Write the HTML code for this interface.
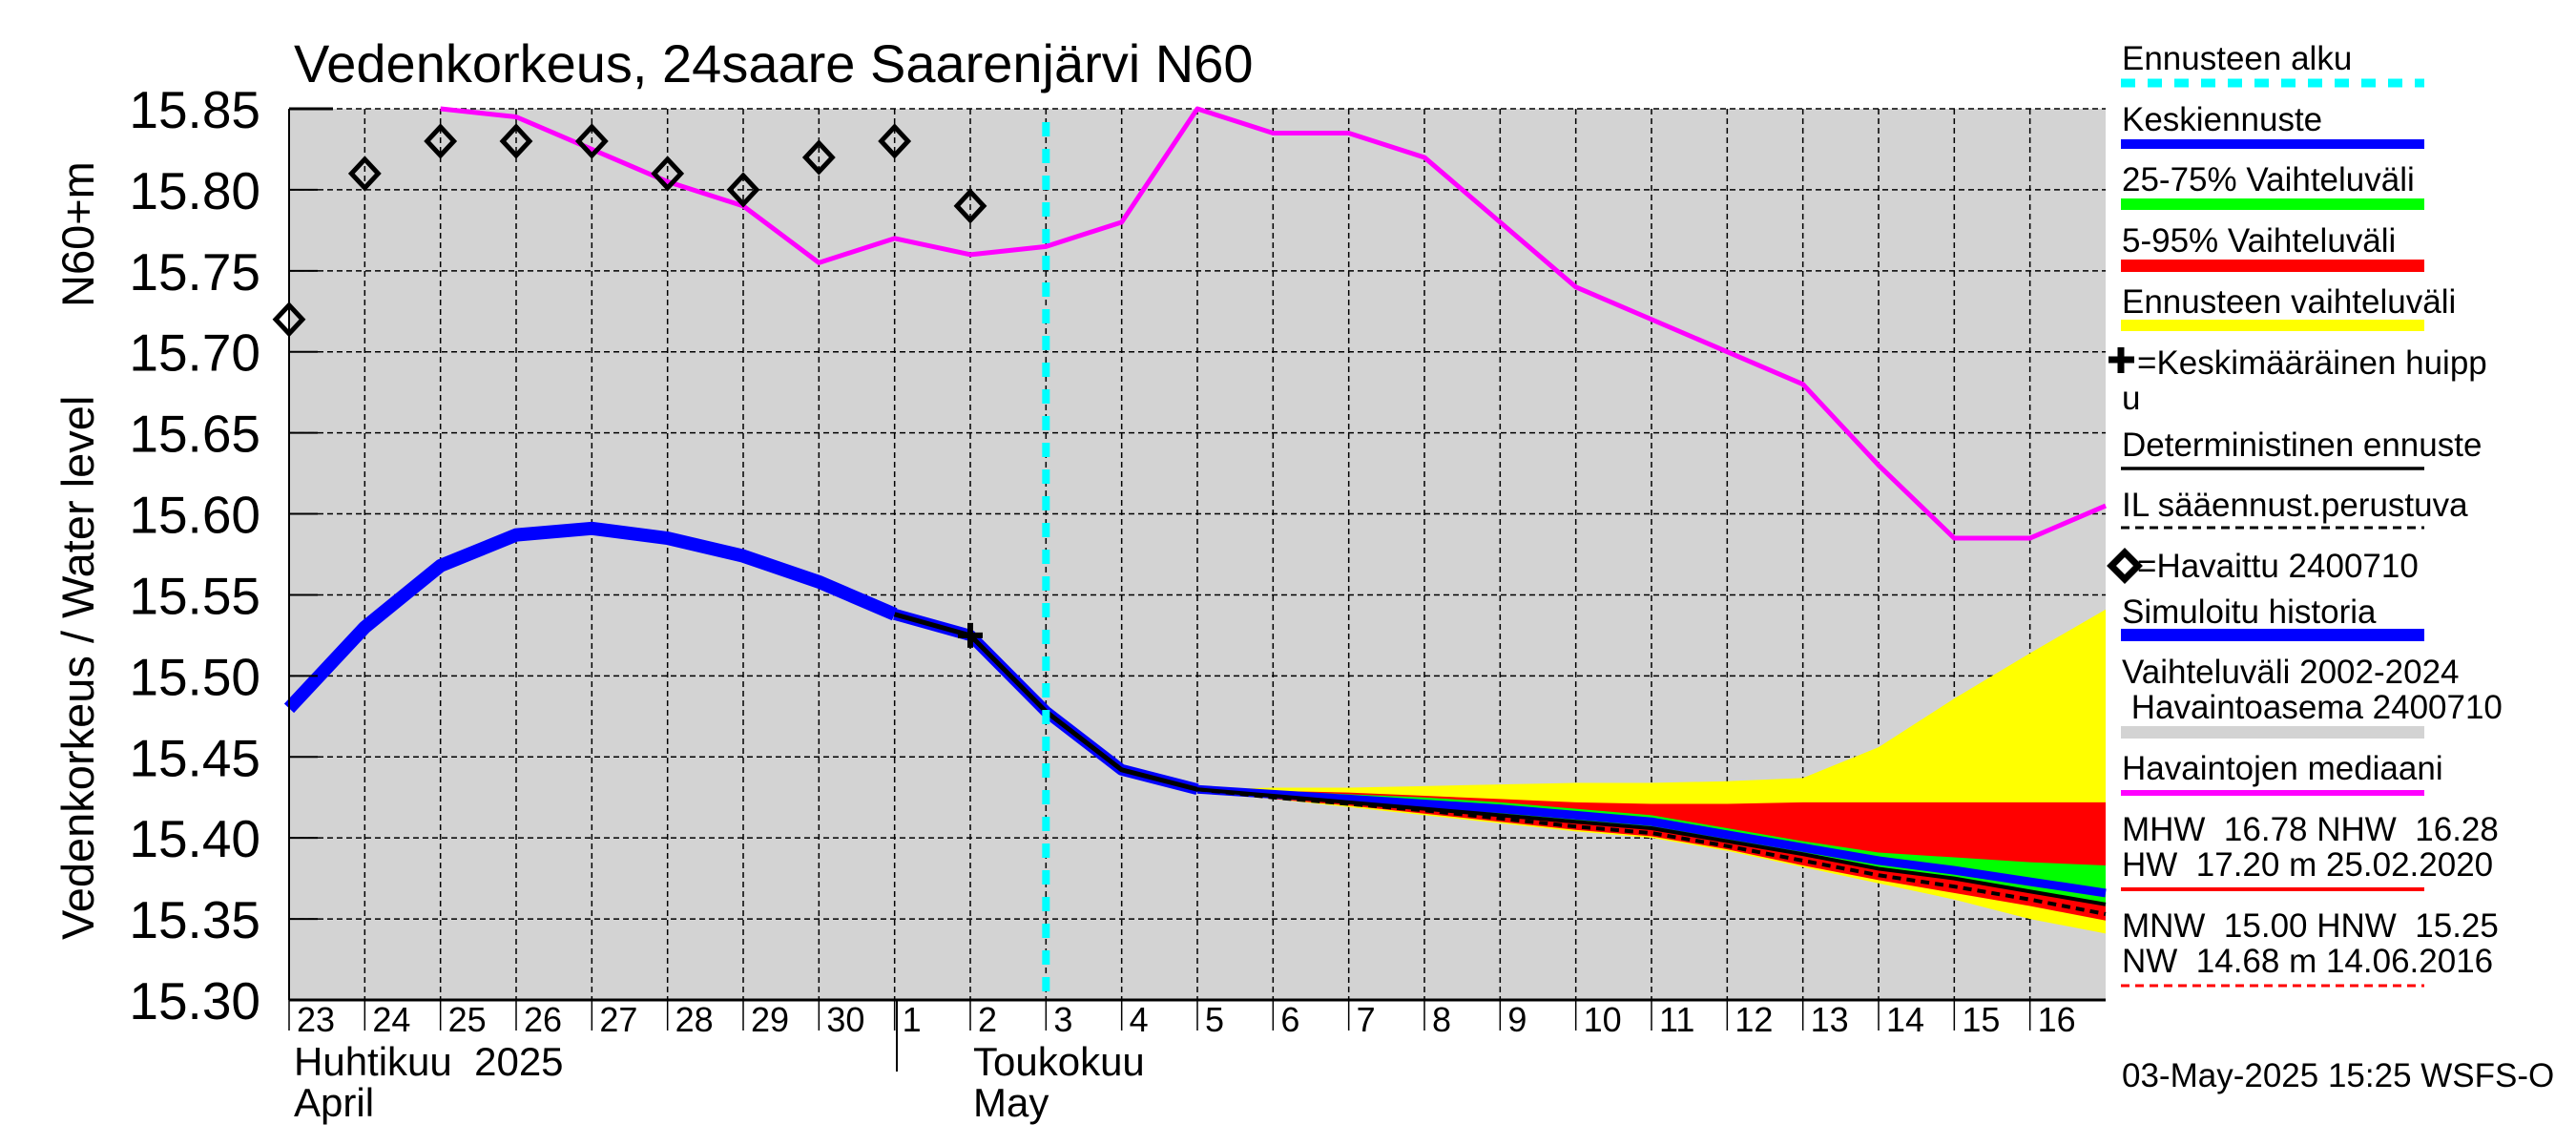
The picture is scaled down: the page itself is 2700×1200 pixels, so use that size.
<!DOCTYPE html>
<html><head><meta charset="utf-8"><style>
html,body{margin:0;padding:0;background:#fff;}
svg{display:block;font-family:"Liberation Sans",sans-serif;}
</style></head><body>
<svg id="chart" width="2700" height="1200" viewBox="0 0 2700 1200" xmlns="http://www.w3.org/2000/svg">
<rect x="303" y="114" width="1904" height="934" fill="#d3d3d3"/>
<g id="grid"></g>
<g id="bands"></g>
<g id="lines"></g>
<g id="axes"></g>
<text x="308" y="86" font-size="56">Vedenkorkeus, 24saare Saarenjärvi N60</text>
<text transform="translate(98,985) rotate(-90)" font-size="47">Vedenkorkeus / Water level</text>
<text transform="translate(98,322) rotate(-90)" font-size="47">N60+m</text>
<text x="308" y="1127" font-size="42" xml:space="preserve">Huhtikuu  2025</text>
<text x="308" y="1170" font-size="42">April</text>
<text x="1020" y="1127" font-size="42">Toukokuu</text>
<text x="1020" y="1170" font-size="42">May</text>
<line x1="940" y1="1048" x2="940" y2="1123" stroke="#000" stroke-width="2"/>
<g font-size="35">
 <text x="2224" y="73">Ennusteen alku</text>
 <line x1="2223" y1="87" x2="2541" y2="87" stroke="#00ffff" stroke-width="9" stroke-dasharray="15,13"/>
 <text x="2224" y="137">Keskiennuste</text>
 <rect x="2223" y="146" width="318" height="10" fill="#0000ff"/>
 <text x="2224" y="200">25-75% Vaihteluväli</text>
 <rect x="2223" y="208" width="318" height="12" fill="#00ff00"/>
 <text x="2224" y="264">5-95% Vaihteluväli</text>
 <rect x="2223" y="272" width="318" height="13" fill="#ff0000"/>
 <text x="2224" y="328">Ennusteen vaihteluväli</text>
 <rect x="2223" y="335" width="318" height="12" fill="#ffff00"/>
 <path d="M2210,377 h27 M2223,364 v27" stroke="#000" stroke-width="7"/>
 <text x="2240" y="392">=Keskimääräinen huipp</text>
 <text x="2224" y="429">u</text>
 <text x="2224" y="478">Deterministinen ennuste</text>
 <line x1="2223" y1="491" x2="2541" y2="491" stroke="#000" stroke-width="3.5"/>
 <text x="2224" y="541">IL sääennust.perustuva</text>
 <line x1="2223" y1="553" x2="2541" y2="553" stroke="#000" stroke-width="3" stroke-dasharray="9,6"/>
 <path d="M2213,593 l14,-14 l14,14 l-14,14z" fill="none" stroke="#000" stroke-width="7"/>
 <text x="2240" y="605">=Havaittu 2400710</text>
 <text x="2224" y="653">Simuloitu historia</text>
 <rect x="2223" y="659" width="318" height="13" fill="#0000ff"/>
 <text x="2224" y="716">Vaihteluväli 2002-2024</text>
 <text x="2224" y="753" xml:space="preserve"> Havaintoasema 2400710</text>
 <rect x="2223" y="761" width="318" height="13" fill="#d3d3d3"/>
 <text x="2224" y="817">Havaintojen mediaani</text>
 <rect x="2223" y="828" width="318" height="6" fill="#ff00ff"/>
 <text x="2224" y="881" xml:space="preserve">MHW  16.78 NHW  16.28</text>
 <text x="2224" y="918" xml:space="preserve">HW  17.20 m 25.02.2020</text>
 <line x1="2223" y1="932" x2="2541" y2="932" stroke="#ff0000" stroke-width="4"/>
 <text x="2224" y="982" xml:space="preserve">MNW  15.00 HNW  15.25</text>
 <text x="2224" y="1019" xml:space="preserve">NW  14.68 m 14.06.2016</text>
 <line x1="2223" y1="1033" x2="2541" y2="1033" stroke="#ff0000" stroke-width="3" stroke-dasharray="9,6"/>
 <text x="2224" y="1139">03-May-2025 15:25 WSFS-O</text>
</g>
</svg>
<script>
const yTicks = [15.30,15.35,15.40,15.45,15.50,15.55,15.60,15.65,15.70,15.75,15.80,15.85];
const yTickLabels = ["15.30","15.35","15.40","15.45","15.50","15.55","15.60","15.65","15.70","15.75","15.80","15.85"];
const dayLabels = ["23","24","25","26","27","28","29","30","1","2","3","4","5","6","7","8","9","10","11","12","13","14","15","16"];
const obsDays = [0,1,2,3,4,5,6,7,8,9];
const obsVals = [15.72,15.81,15.83,15.83,15.83,15.81,15.80,15.82,15.83,15.79];
const medDays = [2,3,4,5,6,7,8,9,10,11,12,13,14,15,16,17,18,19,20,21,22,23,24];
const medVals = [15.85,15.845,15.825,15.805,15.79,15.755,15.77,15.76,15.765,15.78,15.85,15.835,15.835,15.82,15.78,15.74,15.72,15.70,15.68,15.63,15.585,15.585,15.605];
const histDays = [0,1,2,3,4,5,6,7,8];
const histVals = [15.48,15.53,15.568,15.587,15.591,15.585,15.574,15.558,15.538];
const detHistDays = [8,9,10,11,12];
const detHistVals = [15.538,15.525,15.478,15.442,15.430];
const fcDays = [12,13,14,15,16,17,18,19,20,21,22,23,24];
const yelU = [15.430,15.431,15.431,15.432,15.433,15.434,15.434,15.435,15.437,15.456,15.486,15.514,15.541];
const redU = [15.430,15.429,15.428,15.426,15.424,15.422,15.421,15.421,15.422,15.422,15.422,15.422,15.422];
const grnU = [15.430,15.429,15.427,15.425,15.422,15.418,15.414,15.406,15.398,15.391,15.388,15.385,15.383];
const meanV = [15.430,15.427,15.424,15.421,15.418,15.414,15.410,15.402,15.394,15.386,15.380,15.373,15.366];
const grnL = [15.430,15.426,15.422,15.418,15.414,15.409,15.405,15.398,15.390,15.382,15.375,15.367,15.358];
const detV = [15.430,15.426,15.422,15.418,15.414,15.410,15.406,15.398,15.390,15.381,15.375,15.367,15.359];
const ilV = [15.430,15.425,15.421,15.417,15.412,15.407,15.403,15.395,15.386,15.377,15.370,15.362,15.353];
const redL = [15.430,15.424,15.420,15.415,15.410,15.405,15.401,15.393,15.383,15.374,15.366,15.358,15.349];
const yelL = [15.430,15.424,15.419,15.414,15.409,15.404,15.400,15.392,15.382,15.372,15.362,15.350,15.341];
const peakDay = [9];
const peakVal = [15.525];
const forecastStartDay = [10];

const NS = "http://www.w3.org/2000/svg";
const X0 = 303, X1 = 2207, Y0 = 114, Y1 = 1048, NDAYS = 24, VMIN = 15.30, VMAX = 15.85;
function xs(d){ return X0 + d * (X1 - X0) / NDAYS; }
function ys(v){ return Y1 - (v - VMIN) * (Y1 - Y0) / (VMAX - VMIN); }
function mk(tag, attrs, parent){ const e = document.createElementNS(NS, tag); for (const k in attrs) e.setAttribute(k, attrs[k]); parent.appendChild(e); return e; }
const grid = document.getElementById('grid'), bands = document.getElementById('bands'), lines = document.getElementById('lines'), axes = document.getElementById('axes');

yTicks.forEach((v, i) => {
  const l = mk('line', {x1: X0, x2: X1, y1: ys(v), y2: ys(v), stroke: '#000', 'stroke-width': 1.5, 'stroke-dasharray': '6,4'}, grid);
  
  
  const tk = mk('line', {x1: X0, x2: X0 + 30, y1: ys(v), y2: ys(v), stroke: '#000', 'stroke-width': 2}, axes);
  
  
  const t = mk('text', {x: 273, y: ys(v) + 20, 'text-anchor': 'end', 'font-size': 55}, axes);
  t.textContent = yTickLabels[i];
  
  
});
dayLabels.forEach((lab, i) => {
  const x = xs(i);
  const l = mk('line', {x1: x, x2: x, y1: Y0, y2: Y1, stroke: '#000', 'stroke-width': 1.5, 'stroke-dasharray': '6,4'}, grid);
  
  
  const tk = mk('line', {x1: x, x2: x, y1: Y1, y2: Y1 + 32, stroke: '#000', 'stroke-width': 1.5}, axes);
  
  
  const t = mk('text', {x: x + 8, y: 1081, 'font-size': 36}, axes);
  t.textContent = lab;
  
  
});
const topAx = mk('line', {x1: X0, x2: X0 + 46, y1: Y0, y2: Y0, stroke: '#000', 'stroke-width': 3}, axes);


const leftAx = mk('line', {x1: X0, x2: X0, y1: Y0, y2: Y1, stroke: '#000', 'stroke-width': 2}, axes);


const botAx = mk('line', {x1: X0, x2: X1, y1: Y1, y2: Y1, stroke: '#000', 'stroke-width': 3}, axes);



function band(up, lo, color, name){
  let d = 'M' + fcDays.map((dd, i) => xs(dd) + ',' + ys(up[i])).join(' L');
  for (let i = fcDays.length - 1; i >= 0; i--) d += ' L' + xs(fcDays[i]) + ',' + ys(lo[i]);
  const p = mk('path', {d: d + 'Z', fill: color}, bands);
  
  
}
band(yelU, yelL, '#ffff00', 'band-forecast-range');
band(redU, redL, '#ff0000', 'band-5-95');
band(grnU, grnL, '#00ff00', 'band-25-75');

function poly(days, vals, attrs, name){
  const pts = days.map((d, i) => xs(d) + ',' + ys(vals[i])).join(' ');
  const p = mk('polyline', Object.assign({points: pts, fill: 'none', 'stroke-linejoin': 'round'}, attrs), lines);
  
  
}
poly(medDays, medVals, {stroke: '#ff00ff', 'stroke-width': 5}, 'median-line');
poly(histDays, histVals, {stroke: '#0000ff', 'stroke-width': 14}, 'simulated-history-line');
poly(detHistDays, detHistVals, {stroke: '#0000ff', 'stroke-width': 12}, 'simulated-history-tail');
poly(detHistDays, detHistVals, {stroke: '#000', 'stroke-width': 5}, 'deterministic-history-line');
poly(fcDays, meanV, {stroke: '#0000ff', 'stroke-width': 9}, 'mean-forecast-line');
poly(fcDays, detV, {stroke: '#000', 'stroke-width': 4}, 'deterministic-forecast-line');
poly(fcDays, ilV, {stroke: '#000', 'stroke-width': 4, 'stroke-dasharray': '9,6'}, 'il-forecast-line');

const cy = mk('line', {x1: xs(forecastStartDay[0]), x2: xs(forecastStartDay[0]), y1: Y0 + 14, y2: Y1, stroke: '#00ffff', 'stroke-width': 8, 'stroke-dasharray': '15,13'}, lines);



obsDays.forEach((d, i) => {
  const x = xs(d), y = ys(obsVals[i]);
  const p = mk('path', {d: `M${x-14},${y} L${x},${y-15} L${x+14},${y} L${x},${y+15}Z`, fill: 'none', stroke: '#000', 'stroke-width': 5}, lines);
  
  
});
peakDay.forEach((d, i) => {
  const x = xs(d), y = ys(peakVal[i]);
  const p = mk('path', {d: `M${x-13},${y} H${x+13} M${x},${y-13} V${y+13}`, stroke: '#000', 'stroke-width': 6}, lines);
  
  
});
</script>
</body></html>
